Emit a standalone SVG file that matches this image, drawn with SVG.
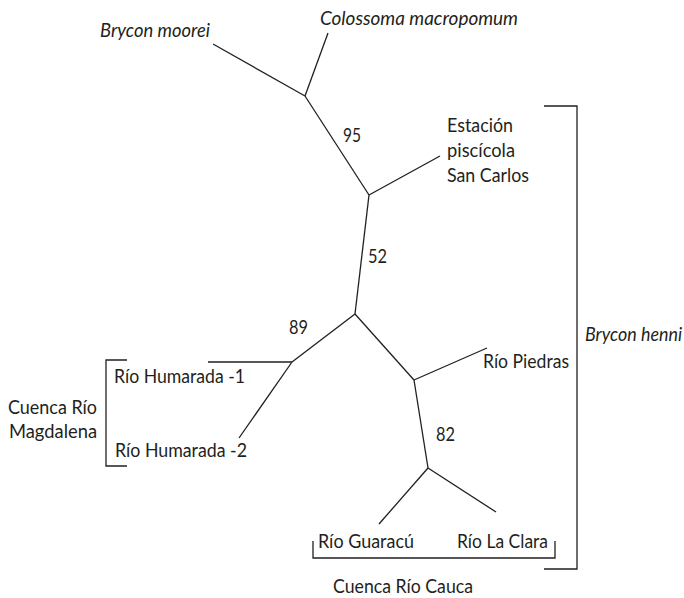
<svg xmlns="http://www.w3.org/2000/svg" width="684" height="598" viewBox="0 0 684 598">
<style>
text{font-family:Lato,"Open Sans","Liberation Sans",sans-serif;font-size:18.5px;fill:#231f20}
.it{font-style:italic}
.br{fill:none;stroke:#231f20;stroke-width:1.3}
#edges line{stroke:#231f20;stroke-width:1.3}
</style>
<rect width="684" height="598" fill="#fff"/>
<g id="edges">
<line x1="213" y1="44" x2="305" y2="96"/>
<line x1="328" y1="33" x2="305" y2="96"/>
<line x1="305" y1="96" x2="369" y2="195"/>
<line x1="369" y1="195" x2="440" y2="156"/>
<line x1="369" y1="195" x2="355" y2="314"/>
<line x1="355" y1="314" x2="414" y2="380"/>
<line x1="414" y1="380" x2="487" y2="348"/>
<line x1="355" y1="314" x2="292" y2="362"/>
<line x1="292" y1="362" x2="208" y2="362"/>
<line x1="292" y1="362" x2="239" y2="438"/>
<line x1="414" y1="380" x2="428" y2="468"/>
<line x1="428" y1="468" x2="379" y2="524"/>
<line x1="428" y1="468" x2="496" y2="512"/>
</g>
<g id="brycon-moorei"><text class="it" x="100" y="37" textLength="110" lengthAdjust="spacingAndGlyphs">Brycon moorei</text></g>
<g id="colossoma"><text class="it" x="320" y="25" textLength="198" lengthAdjust="spacingAndGlyphs">Colossoma macropomum</text></g>
<g id="san-carlos"><text x="447" y="132" textLength="66" lengthAdjust="spacingAndGlyphs">Estación</text><text x="447" y="157" textLength="68" lengthAdjust="spacingAndGlyphs">piscícola</text><text x="447" y="182" textLength="82" lengthAdjust="spacingAndGlyphs">San Carlos</text></g>
<g id="rio-piedras"><text x="483" y="368" textLength="86" lengthAdjust="spacingAndGlyphs">Río Piedras</text></g>
<g id="humarada-1"><text x="114" y="383" textLength="131" lengthAdjust="spacingAndGlyphs">Río Humarada -1</text></g>
<g id="humarada-2"><text x="115" y="457" textLength="132" lengthAdjust="spacingAndGlyphs">Río Humarada -2</text></g>
<g id="guaracu"><text x="318" y="548" textLength="96" lengthAdjust="spacingAndGlyphs">Río Guaracú</text></g>
<g id="la-clara"><text x="457" y="548" textLength="91" lengthAdjust="spacingAndGlyphs">Río La Clara</text></g>
<g id="support">
<text x="343" y="142" textLength="18" lengthAdjust="spacingAndGlyphs">95</text>
<text x="368" y="263" textLength="19" lengthAdjust="spacingAndGlyphs">52</text>
<text x="289" y="334" textLength="19" lengthAdjust="spacingAndGlyphs">89</text>
<text x="436" y="441" textLength="19" lengthAdjust="spacingAndGlyphs">82</text>
</g>
<g id="brycon-henni"><path class="br" d="M544 106H577V569H544"/><text class="it" x="585" y="341" textLength="97" lengthAdjust="spacingAndGlyphs">Brycon henni</text></g>
<g id="magdalena"><path class="br" d="M127 360H106V466H127"/><text x="8" y="414" textLength="89" lengthAdjust="spacingAndGlyphs">Cuenca Río</text><text x="9" y="438" textLength="88" lengthAdjust="spacingAndGlyphs">Magdalena</text></g>
<g id="cauca"><path class="br" d="M313 541V558H555V541"/><text x="333" y="593" textLength="140" lengthAdjust="spacingAndGlyphs">Cuenca Río Cauca</text></g>
</svg>
